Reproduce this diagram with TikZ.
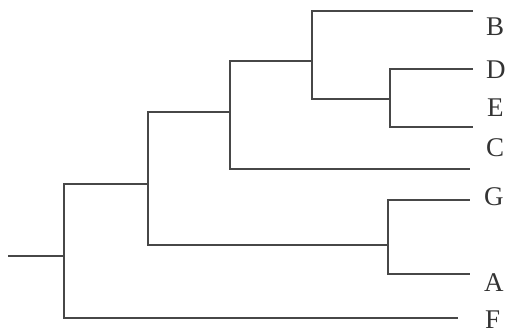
\documentclass[tikz,border=0pt]{standalone}
\usepackage{fontspec}
\setmainfont{Liberation Serif}
\begin{document}
\begin{tikzpicture}[x=1pt,y=-1pt,
  branch/.style={draw=black!72, line width=1.6pt},
  taxon/.style={anchor=west, inner sep=0pt, font=\fontsize{27}{27}\selectfont, text=black!80}]
\useasboundingbox (0,0) rectangle (507,334);
% internal nodes
\coordinate (s) at (8,256);
\coordinate (r) at (64,256);
\coordinate (n1) at (148,184);
\coordinate (n2) at (230,112);
\coordinate (n3) at (388,245);
\coordinate (n4) at (312,61);
\coordinate (n5) at (390,99);
% tips
\coordinate (tB) at (473,11);
\coordinate (tD) at (473,69);
\coordinate (tE) at (473,127);
\coordinate (tC) at (470,169);
\coordinate (tG) at (470,200);
\coordinate (tA) at (470,274);
\coordinate (tF) at (458,318);
% labels
\node[taxon] (B) at (486,27) {B};
\node[taxon] (D) at (486,70) {D};
\node[taxon] (E) at (487,108) {E};
\node[taxon] (C) at (486,148) {C};
\node[taxon] (G) at (484,197) {G};
\node[taxon] (A) at (484,283) {A};
\node[taxon] (F) at (485,320) {F};
% branches
\draw[branch] (s) -- (r);
\draw[branch] (r) |- (n1);
\draw[branch] (r) |- (tF);
\draw[branch] (n1) |- (n2);
\draw[branch] (n1) |- (n3);
\draw[branch] (n2) |- (n4);
\draw[branch] (n2) |- (tC);
\draw[branch] (n4) |- (tB);
\draw[branch] (n4) |- (n5);
\draw[branch] (n5) |- (tD);
\draw[branch] (n5) |- (tE);
\draw[branch] (n3) |- (tG);
\draw[branch] (n3) |- (tA);
\end{tikzpicture}
\end{document}
